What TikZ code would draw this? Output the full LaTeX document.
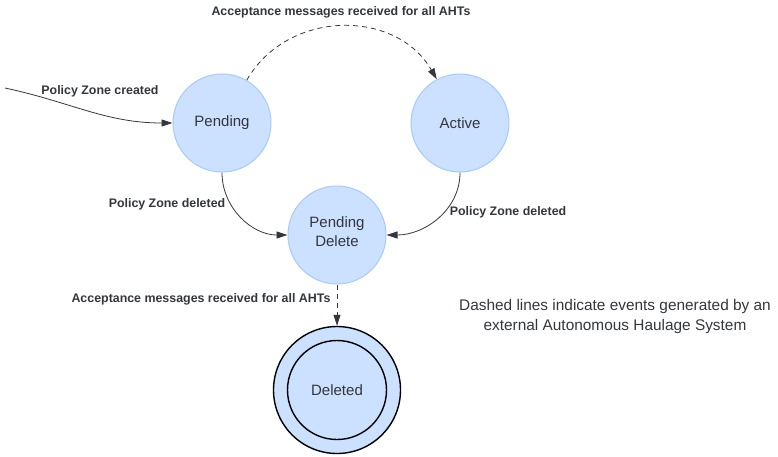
\documentclass[tikz,border=0pt]{standalone}
\usepackage{fontspec}
\setmainfont{Liberation Sans}
\usetikzlibrary{arrows.meta}
\definecolor{stfill}{RGB}{204,224,255}
\definecolor{stline}{RGB}{168,202,247}
\definecolor{ink}{RGB}{51,54,61}

\begin{document}
\begin{tikzpicture}[x=1pt, y=1pt, color=ink,
  state/.style={shape=circle, fill=stfill, draw=stline, line width=1pt, minimum size=98pt, inner sep=0pt, font=\fontsize{15}{19}\selectfont, align=center},
  final/.style={state, draw=black, line width=1.4pt},
  lbl/.style={font=\bfseries\fontsize{12.4}{14}\selectfont},
  trans/.style={line width=0.8pt, -{Triangle[length=11pt,width=7pt]}},
  ext/.style={trans, dash pattern=on 5pt off 4pt}]
\useasboundingbox (0,0) rectangle (778,-456);
% states
\node[state] (pending) at (222,-123) {Pending};
\node[state] (active) at (460,-123) {Active};
\node[state] (pdelete) at (337,-235) {Pending\\Delete\\[-13pt]};
\node[final, minimum size=127pt] (deletedout) at (337,-390) {};
\node[final, minimum size=99pt] (deleted) at (337,-390) {Deleted};
\coordinate (start) at (5,-88);
% labels
\node[lbl] (lcreated) at (100,-91) {Policy Zone created};
\node[lbl] (laccept) at (341,-12) {Acceptance messages received for all AHTs};
\node[lbl] (ldelleft) at (167,-204) {Policy Zone deleted};
\node[lbl] (ldelright) at (508,-212) {Policy Zone deleted};
\node[lbl] (lfinal) at (201,-299) {Acceptance messages received for all AHTs};
\node[font=\fontsize{15.4}{20}\selectfont, align=center] (note) at (615,-317) {Dashed lines indicate events generated by an\\external Autonomous Haulage System};
% transitions
\draw[trans] (start) to[out=-12, in=180] (pending.west);
\draw[ext] (pending.60) to[out=60, in=120, looseness=1.1] (active.118);
\draw[trans] (pending.south) to[out=-90, in=180] (pdelete.west);
\draw[trans] (active.south) to[out=-90, in=0] (pdelete.east);
\draw[ext] (pdelete.south) -- (deletedout.north);
\end{tikzpicture}
\end{document}
